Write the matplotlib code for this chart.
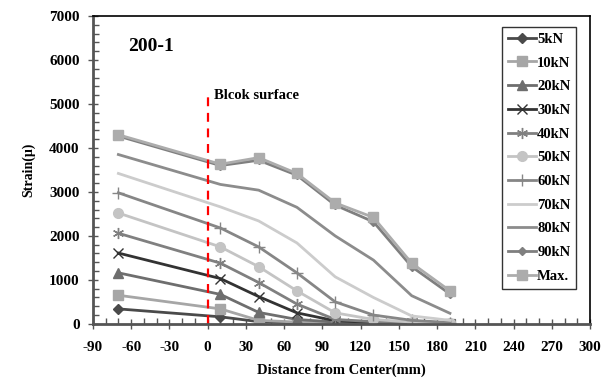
import matplotlib.pyplot as plt
from matplotlib.ticker import MultipleLocator

plt.rcParams['font.family'] = ['Liberation Serif', 'DejaVu Serif']
plt.rcParams['font.weight'] = 'bold'
plt.rcParams['axes.unicode_minus'] = False

# gauge positions (mm from center)
dist = [-70, 10, 40, 70, 100, 130, 160, 190]

load_labels = ['5kN', '10kN', '20kN', '30kN', '40kN', '50kN',
               '60kN', '70kN', '80kN', '90kN', 'Max.']

strain_5 = [340, 160, 50, 20, 10, 5, 0, 0]
strain_10 = [650, 340, 80, 40, 20, 10, 5, 0]
strain_20 = [1160, 670, 260, 100, 40, 20, 10, 0]
strain_30 = [1610, 1030, 620, 250, 70, 30, 10, 5]
strain_40 = [2060, 1380, 940, 450, 100, 50, 20, 10]
strain_50 = [2520, 1750, 1300, 750, 250, 100, 40, 20]
strain_60 = [2980, 2180, 1750, 1160, 500, 200, 80, 30]
strain_70 = [3420, 2660, 2340, 1840, 1070, 600, 180, 80]
strain_80 = [3850, 3170, 3040, 2650, 2000, 1450, 640, 240]
strain_90 = [4270, 3600, 3720, 3380, 2700, 2320, 1300, 680]
strain_max = [4300, 3630, 3780, 3420, 2750, 2420, 1380, 750]

series = [strain_5, strain_10, strain_20, strain_30, strain_40, strain_50,
          strain_60, strain_70, strain_80, strain_90, strain_max]

styles = [
    dict(color='#4a4a4a', marker='D', ms=5),
    dict(color='#a6a6a6', marker='s', ms=7),
    dict(color='#6e6e6e', marker='^', ms=7),
    dict(color='#333333', marker='x', ms=7, mew=1),
    dict(color='#808080', marker=(6, 2, 0), ms=8, mew=1),
    dict(color='#c4c4c4', marker='o', ms=7),
    dict(color='#868686', marker='+', ms=8, mew=1),
    dict(color='#cccccc', marker=None),
    dict(color='#8c8c8c', marker=None),
    dict(color='#7f7f7f', marker='D', ms=4),
    dict(color='#acacac', marker='s', ms=7),
]

fig, ax = plt.subplots(figsize=(6.11, 3.81), dpi=100)
fig.subplots_adjust(left=0.152, right=0.966, top=0.958, bottom=0.15)

for y, lab, st in zip(series, load_labels, styles):
    ax.plot(dist, y, label=lab, lw=2, **st)

ax.plot([0, 0], [0, 5200], color='red', ls='--', lw=1.6, dashes=(4, 3))
ax.text(5, 5050, 'Blcok surface', fontsize=10.5, fontweight='bold', va='bottom')
ax.text(-62, 6300, '200-1', fontsize=14, fontweight='bold', va='center')

ax.set_xlim(-90, 300)
ax.set_ylim(0, 7000)
ax.xaxis.set_major_locator(MultipleLocator(30))
ax.xaxis.set_minor_locator(MultipleLocator(10))
ax.yaxis.set_major_locator(MultipleLocator(1000))
ax.yaxis.set_minor_locator(MultipleLocator(200))
ax.tick_params(which='major', direction='inout', length=7, width=1,
               color='#555555', labelsize=11)
ax.tick_params(which='minor', direction='in', length=4, width=1, color='#555555')
ax.tick_params(axis='x', pad=9)
ax.tick_params(axis='y', pad=6)
for s in ['left', 'bottom']:
    ax.spines[s].set_color('#555555')
    ax.spines[s].set_linewidth(2)
for s in ['top', 'right']:
    ax.spines[s].set_linewidth(1.2)

ax.set_xlabel('Distance from Center(mm)', fontsize=10.5, fontweight='bold', labelpad=7)
ax.set_ylabel('Strain(\u03bc)', fontsize=10, fontweight='bold', labelpad=10)

leg = ax.legend(loc='upper right', bbox_to_anchor=(0.972, 0.965), fontsize=10.5,
                frameon=True, fancybox=False, edgecolor='black',
                labelspacing=0.72, handlelength=1.9, handletextpad=0.1,
                borderpad=0.4, borderaxespad=0)
leg.get_frame().set_linewidth(1)

fig.savefig('out.png', dpi=100)
